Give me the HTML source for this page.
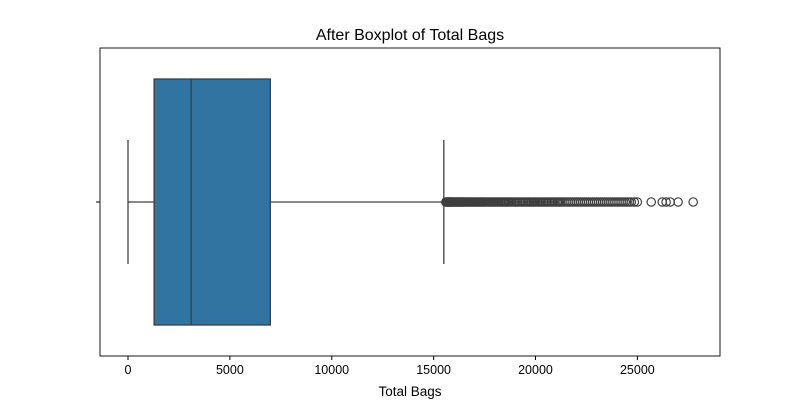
<!DOCTYPE html>
<html><head><meta charset="utf-8"><style>
body{margin:0;background:#fff;font-family:"Liberation Sans",sans-serif}
</style></head><body>
<svg id="chart" width="800" height="400" xmlns="http://www.w3.org/2000/svg"></svg>
<script>
const ticks=[0,5000,10000,15000,20000,25000];
const tickLabels=["0","5000","10000","15000","20000","25000"];
const whiskerLow=0, q1=1280, median=3100, q3=6985, whiskerHigh=15500;
const outliers=[15600,15620,15650,15680,15700,15730,15760,15790,15820,15850,15880,15910,15950,15980,16020,16060,16100,16140,16180,16220,16260,16300,16340,16380,16420,16460,16500,16550,16600,16650,16700,16750,16800,16850,16900,16950,17000,17050,17100,17150,17200,17250,17300,17350,17400,17450,17500,17560,17620,17680,17740,17800,17860,17920,17980,18040,18100,18160,18220,18290,18350,18420,18480,18540,18600,18680,18750,18820,18900,18980,19050,19120,19200,19280,19350,19420,19500,19580,19650,19720,19800,19880,19950,20020,20100,20180,20250,20320,20400,20480,20550,20620,20700,20780,20850,20920,21000,21080,21150,21220,21300,21400,21500,21600,21700,21800,21900,22000,22100,22200,22300,22400,22500,22600,22700,22800,22900,23000,23100,23200,23300,23400,23500,23600,23700,23800,23900,24000,24100,24200,24300,24400,24500,24600,24700,24850,25000,25680,26220,26410,26610,27000,27740];
const NS="http://www.w3.org/2000/svg";
const svg=document.getElementById('chart');
const L=100,R=720,T=48,B=356,cy=202;
function x(v){return 128+v*(535.5-128)/20000;}
function mk(t,a,p){const e=document.createElementNS(NS,t);for(const k in a)e.setAttribute(k,a[k]);(p||svg).appendChild(e);return e;}
let e;
e=mk('text',{x:410,y:40,'text-anchor':'middle','font-size':16,fill:'#000'});e.textContent='After Boxplot of Total Bags';


e=mk('line',{x1:x(whiskerLow),x2:x(q1),y1:cy,y2:cy,stroke:'#3f3f3f','stroke-width':1.3});


e=mk('line',{x1:x(q3),x2:x(whiskerHigh),y1:cy,y2:cy,stroke:'#3f3f3f','stroke-width':1.3});


e=mk('line',{x1:x(whiskerLow),x2:x(whiskerLow),y1:140,y2:264,stroke:'#3f3f3f','stroke-width':1.3});


e=mk('line',{x1:x(whiskerHigh),x2:x(whiskerHigh),y1:140,y2:264,stroke:'#3f3f3f','stroke-width':1.3});


e=mk('rect',{x:x(q1),y:79,width:x(q3)-x(q1),height:246,fill:'#3274a1',stroke:'#3f3f3f','stroke-width':1.3});


e=mk('line',{x1:x(median),x2:x(median),y1:79,y2:325,stroke:'#3f3f3f','stroke-width':1.3});


outliers.forEach(v=>{const c=mk('circle',{cx:x(v),cy:cy,r:4.2,fill:'none',stroke:'#3f3f3f','stroke-width':1.2});

});
e=mk('rect',{x:L,y:T,width:R-L,height:B-T,fill:'none',stroke:'#000','stroke-width':0.9});


e=mk('line',{x1:L-4,x2:L,y1:cy,y2:cy,stroke:'#000'});


ticks.forEach((v,i)=>{const l=mk('line',{x1:x(v),x2:x(v),y1:B,y2:B+4,stroke:'#000'});


const t=mk('text',{x:x(v),y:B+18,'text-anchor':'middle','font-size':12.5,fill:'#000'});t.textContent=tickLabels[i];

});
e=mk('text',{x:410,y:396,'text-anchor':'middle','font-size':13.5,fill:'#000'});e.textContent='Total Bags';


</script>
</body></html>
